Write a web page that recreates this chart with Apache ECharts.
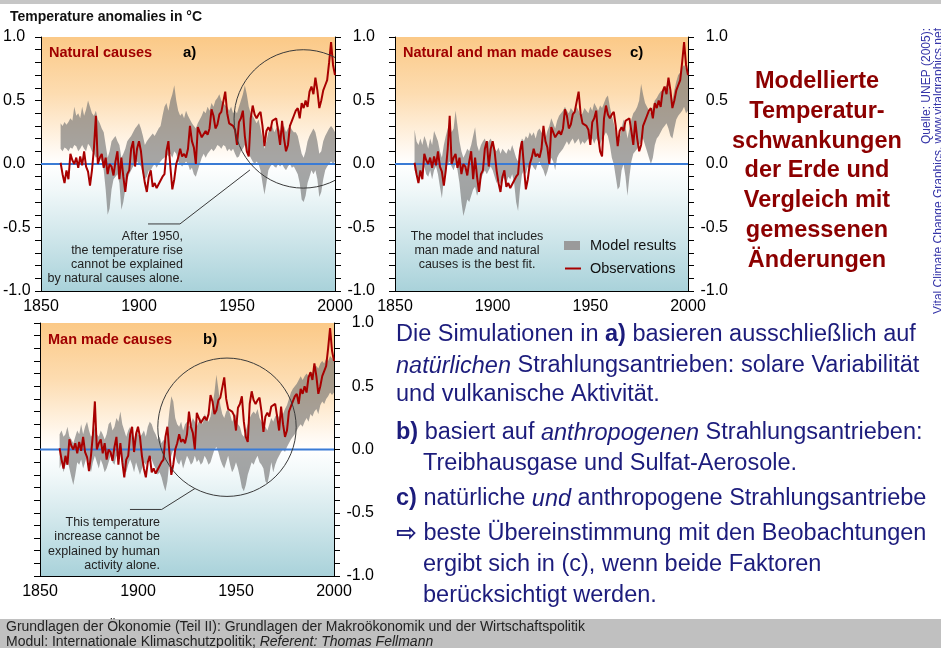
<!DOCTYPE html>
<html><head><meta charset="utf-8">
<script src="https://cdn.jsdelivr.net/npm/echarts@6/dist/echarts.min.js"></script>
<style>html,body{margin:0;padding:0;background:#fff}#c{width:941px;height:648px}</style>
</head><body><div id="c"></div>
<script>
// ---------- data ----------
const years = []; for (let y = 1860; y <= 2000; y++) years.push(y);
const xTicks = [1850, 1900, 1950, 2000];
const yTicks = [-1.0, -0.5, 0.0, 0.5, 1.0];

const observations = [
 0.01,-0.08,-0.15,-0.05,-0.12, 0.08, 0.03, 0.00, 0.05,-0.03,
 0.06,-0.01, 0.10,-0.02,-0.06,-0.17,-0.05, 0.12, 0.38, 0.00,
 0.05, 0.08,-0.03, 0.05,-0.08, 0.00,-0.02,-0.09, 0.02, 0.10,
-0.12, 0.05,-0.10,-0.22,-0.08,-0.05, 0.12, 0.18,-0.02, 0.12,
 0.18, 0.10,-0.05,-0.15,-0.22,-0.10,-0.05,-0.18,-0.15,-0.19,
-0.16,-0.17,-0.10,-0.08, 0.10, 0.18,-0.02,-0.20,-0.12, 0.00,
 0.05, 0.12, 0.06, 0.08, 0.05, 0.12, 0.30, 0.18, 0.13, 0.00,
 0.29, 0.28, 0.21, 0.20, 0.26, 0.23, 0.28, 0.43, 0.38, 0.28,
 0.31, 0.39, 0.41, 0.40, 0.57, 0.40, 0.32, 0.31, 0.30, 0.27,
 0.15, 0.33, 0.36, 0.42, 0.22, 0.10, 0.06, 0.36, 0.46, 0.39,
 0.36, 0.39, 0.41, 0.30, 0.14, 0.26, 0.29, 0.26, 0.34, 0.33,
 0.36, 0.26, 0.15, 0.34, 0.20, 0.10, 0.15, 0.30, 0.34, 0.38,
 0.42, 0.44, 0.36, 0.48, 0.44, 0.50, 0.45, 0.57, 0.61, 0.55,
 0.68, 0.58, 0.44, 0.50, 0.58, 0.62, 0.66, 0.80, 0.96, 0.78,
 0.70];

// a) natural forcing model envelope
const naturalLow = [
 0.12, 0.10, 0.13, 0.12, 0.10, 0.13, 0.12, 0.15, 0.14, 0.10,
 0.12, 0.15, 0.12, 0.10, 0.16, 0.14, 0.10, 0.08, 0.05, 0.06,
 0.05, 0.02,-0.05,-0.20,-0.40,-0.35,-0.20,-0.12,-0.10,-0.08,
-0.15,-0.36,-0.30,-0.20,-0.12,-0.08,-0.05,-0.02, 0.00, 0.02,
 0.00,-0.02,-0.08,-0.12,-0.10,-0.05,-0.05,-0.02, 0.00,-0.03,
 0.00, 0.02, 0.04, 0.05, 0.08, 0.06, 0.08, 0.05, 0.10, 0.08,
 0.02, 0.00,-0.02, 0.00, 0.02, 0.00,-0.05,-0.03,-0.08,-0.10,
-0.05, 0.00, 0.05, 0.08, 0.05, 0.08, 0.10, 0.12, 0.10, 0.12,
 0.15, 0.14, 0.12, 0.15, 0.14, 0.10, 0.12, 0.10, 0.12, 0.08,
 0.05, 0.06, 0.10, 0.12, 0.15, 0.10, 0.08, 0.05, 0.02, 0.00,
 0.02, 0.00,-0.05,-0.15,-0.24,-0.15,-0.05,-0.02, 0.00,-0.02,
-0.03, 0.00,-0.02, 0.00,-0.03,-0.05,-0.02, 0.00,-0.03,-0.02,
-0.05,-0.08,-0.15,-0.28,-0.30,-0.25,-0.15,-0.10,-0.05,-0.08,
-0.05,-0.12,-0.26,-0.22,-0.12,-0.05,-0.02, 0.00, 0.02, 0.00,
 0.02];
const naturalHigh = [
 0.32, 0.30, 0.33, 0.31, 0.33, 0.36, 0.34, 0.45, 0.38, 0.40,
 0.36, 0.45, 0.38, 0.43, 0.50, 0.45, 0.40, 0.38, 0.42, 0.35,
 0.32, 0.28, 0.25, 0.15, 0.05, 0.10, 0.18, 0.20, 0.22, 0.18,
 0.15, 0.05, 0.08, 0.12, 0.18, 0.20, 0.22, 0.25, 0.28, 0.30,
 0.32, 0.28, 0.22, 0.15, 0.18, 0.20, 0.22, 0.24, 0.22, 0.25,
 0.28, 0.30, 0.38, 0.45, 0.48, 0.42, 0.50, 0.55, 0.62, 0.50,
 0.42, 0.38, 0.40, 0.36, 0.42, 0.38, 0.35, 0.32, 0.30, 0.28,
 0.32, 0.35, 0.38, 0.42, 0.40, 0.45, 0.42, 0.48, 0.45, 0.50,
 0.52, 0.55, 0.50, 0.48, 0.46, 0.45, 0.42, 0.45, 0.40, 0.42,
 0.40, 0.45, 0.50, 0.55, 0.62, 0.55, 0.45, 0.40, 0.38, 0.35,
 0.32, 0.35, 0.28, 0.20, 0.12, 0.18, 0.25, 0.28, 0.30, 0.25,
 0.28, 0.30, 0.26, 0.28, 0.30, 0.25, 0.28, 0.30, 0.27, 0.25,
 0.25, 0.22, 0.15, 0.08, 0.05, 0.10, 0.18, 0.22, 0.25, 0.28,
 0.25, 0.18, 0.08, 0.10, 0.18, 0.22, 0.25, 0.28, 0.30, 0.28,
 0.25];

// b) anthropogenic forcing model envelope
const manMadeLow = [
-0.15,-0.10,-0.18,-0.12,-0.08,-0.15,-0.22,-0.28,-0.20,-0.10,
-0.12,-0.08,-0.15,-0.10,-0.05,-0.12,-0.18,-0.10,-0.05,-0.10,
-0.15,-0.08,-0.12,-0.18,-0.15,-0.10,-0.05,-0.10,-0.12,-0.05,
-0.08,-0.02,-0.10,-0.15,-0.18,-0.12,-0.08,-0.12,-0.18,-0.10,
-0.15,-0.20,-0.15,-0.10,-0.12,-0.08,-0.05,-0.08,-0.12,-0.15,
-0.20,-0.18,-0.22,-0.28,-0.33,-0.25,-0.10,-0.05, 0.00,-0.05,
-0.10,-0.12,-0.08,-0.15,-0.10,-0.05,-0.08,-0.12,-0.10,-0.05,
-0.10,-0.08,-0.12,-0.10,-0.05,-0.08,-0.12,-0.10,-0.05, 0.00,
 0.02,-0.02,-0.08,-0.12,-0.15,-0.10,-0.05,-0.12,-0.18,-0.15,
-0.10,-0.15,-0.22,-0.30,-0.33,-0.28,-0.20,-0.15,-0.10,-0.12,
-0.08,-0.05,-0.10,-0.12,-0.15,-0.25,-0.27,-0.20,-0.10,-0.18,
-0.12,-0.08,-0.05,-0.02, 0.00,-0.02, 0.02, 0.05, 0.08, 0.10,
 0.12, 0.15, 0.18, 0.20, 0.18, 0.22, 0.25, 0.22, 0.28, 0.26,
 0.30, 0.32, 0.28, 0.35, 0.38, 0.36, 0.40, 0.42, 0.45, 0.43,
 0.45];
const manMadeHigh = [
 0.12, 0.15, 0.10, 0.12, 0.18, 0.10, 0.08, 0.05, 0.10, 0.15,
 0.12, 0.20, 0.12, 0.18, 0.22, 0.15, 0.10, 0.12, 0.18, 0.12,
 0.10, 0.15, 0.12, 0.08, 0.12, 0.20, 0.22, 0.15, 0.18, 0.25,
 0.22, 0.30, 0.20, 0.15, 0.10, 0.15, 0.18, 0.12, 0.08, 0.15,
 0.12, 0.10, 0.12, 0.15, 0.10, 0.18, 0.22, 0.20, 0.15, 0.12,
 0.08, 0.10, 0.05, 0.08, 0.02, 0.15, 0.30, 0.42, 0.38, 0.25,
 0.20, 0.18, 0.22, 0.15, 0.20, 0.22, 0.18, 0.20, 0.25, 0.22,
 0.18, 0.22, 0.25, 0.20, 0.28, 0.25, 0.22, 0.26, 0.35, 0.45,
 0.59, 0.48, 0.35, 0.28, 0.25, 0.30, 0.32, 0.28, 0.22, 0.25,
 0.28, 0.20, 0.18, 0.12, 0.10, 0.15, 0.20, 0.25, 0.28, 0.30,
 0.28, 0.32, 0.25, 0.22, 0.20, 0.18, 0.15, 0.20, 0.25, 0.22,
 0.26, 0.28, 0.25, 0.30, 0.28, 0.32, 0.35, 0.40, 0.45, 0.48,
 0.50, 0.52, 0.55, 0.58, 0.55, 0.58, 0.60, 0.58, 0.62, 0.60,
 0.65, 0.66, 0.64, 0.68, 0.70, 0.68, 0.72, 0.70, 0.74, 0.72,
 0.70];

// c) natural + anthropogenic model envelope
const combinedLow = [
-0.05,-0.08,-0.12,-0.05,-0.10,-0.02,-0.08,-0.10,-0.05,-0.12,
-0.05,-0.02,-0.08,-0.18,-0.27,-0.12,-0.05, 0.00, 0.02,-0.02,
-0.05, 0.00,-0.05,-0.15,-0.30,-0.41,-0.35,-0.28,-0.30,-0.25,
-0.20,-0.18,-0.25,-0.20,-0.12,-0.08,-0.05,-0.08,-0.05,-0.02,
-0.05,-0.10,-0.15,-0.12,-0.16,-0.10,-0.12,-0.15,-0.10,-0.12,
-0.08,-0.15,-0.30,-0.37,-0.20,-0.08,-0.05,-0.08,-0.02,-0.05,
 0.00,-0.03,-0.05, 0.00, 0.02,-0.02,-0.05,-0.10,-0.06, 0.00,
 0.05, 0.02,-0.05, 0.05, 0.08, 0.10, 0.12, 0.15, 0.18, 0.15,
 0.18, 0.20, 0.16, 0.18, 0.20, 0.15, 0.18, 0.16, 0.18, 0.20,
 0.18, 0.20, 0.16, 0.20, 0.18, 0.15, 0.20, 0.22, 0.25, 0.22,
 0.15, 0.05, 0.00,-0.10,-0.20,-0.18,-0.05, 0.00,-0.10,-0.25,
-0.10, 0.02, 0.08, 0.10, 0.12, 0.15, 0.18, 0.20, 0.15, 0.10,
 0.05, 0.00, 0.05, 0.15, 0.20, 0.22, 0.25, 0.28, 0.30, 0.32,
 0.28, 0.22, 0.20, 0.28, 0.35, 0.38, 0.40, 0.42, 0.45, 0.40,
 0.42];
const combinedHigh = [
 0.27, 0.18, 0.15, 0.20, 0.15, 0.22, 0.18, 0.12, 0.20, 0.15,
 0.26, 0.22, 0.18, 0.10, 0.05, 0.15, 0.22, 0.28, 0.32, 0.25,
 0.28, 0.42, 0.30, 0.18, 0.10, 0.05, 0.08, 0.12, 0.10, 0.15,
 0.22, 0.29, 0.15, 0.10, 0.15, 0.18, 0.20, 0.15, 0.18, 0.20,
 0.16, 0.12, 0.10, 0.13, 0.08, 0.12, 0.10, 0.08, 0.12, 0.10,
 0.15, 0.10, 0.05, 0.02, 0.15, 0.20, 0.18, 0.22, 0.20, 0.25,
 0.22, 0.25, 0.20, 0.26, 0.28, 0.25, 0.22, 0.20, 0.26, 0.30,
 0.36, 0.32, 0.28, 0.34, 0.38, 0.40, 0.42, 0.45, 0.42, 0.40,
 0.44, 0.42, 0.40, 0.45, 0.42, 0.38, 0.40, 0.44, 0.42, 0.40,
 0.45, 0.42, 0.48, 0.45, 0.42, 0.46, 0.44, 0.48, 0.52, 0.54,
 0.45, 0.38, 0.32, 0.25, 0.18, 0.20, 0.28, 0.35, 0.30, 0.20,
 0.28, 0.35, 0.40, 0.42, 0.45, 0.50, 0.63, 0.55, 0.48, 0.45,
 0.42, 0.40, 0.45, 0.50, 0.52, 0.55, 0.57, 0.58, 0.60, 0.62,
 0.60, 0.55, 0.50, 0.58, 0.65, 0.70, 0.72, 0.76, 0.78, 0.75,
 0.70];

// annotation circles [centre year, centre value, radius in years] and leader lines
const circleA = [1983.8, 0.355, 35.3];
const circleB = [1945.4, 0.176, 35.3];
const leaderA = [1956.6, -0.047, 1920.9, -0.472, 1904.6, -0.472];
const leaderB = [1929.1, -0.308, 1912.1, -0.474, 1895.9, -0.474];

// ---------- chart ----------
const FONT = '"Liberation Sans", Arial, Helvetica, sans-serif';
const RED = '#a80000';
const chart = echarts.init(document.getElementById('c'), null, {renderer: 'canvas'});

const bg = {type: 'linear', x: 0, y: 0, x2: 0, y2: 1, colorStops: [
  {offset: 0, color: '#fbc987'}, {offset: 0.22, color: '#fddcb0'},
  {offset: 0.44, color: '#fff8ef'}, {offset: 0.5, color: '#ffffff'},
  {offset: 0.6, color: '#f1f8f9'}, {offset: 1, color: '#a9d2da'}]};

const grids = [
  {left: 41, top: 37, width: 294, height: 254},   // a)
  {left: 395, top: 37, width: 293, height: 254},  // c)
  {left: 40, top: 323, width: 294, height: 253}   // b)
].map(g => Object.assign(g, {show: true, backgroundColor: bg, borderWidth: 0}));

const xAxes = grids.map((g, i) => ({
  gridIndex: i, type: 'value', min: 1850, max: 2000, interval: 50,
  axisLine: {show: true, onZero: false, lineStyle: {color: '#000', width: 1}},
  axisTick: {show: false}, splitLine: {show: false},
  axisLabel: {fontSize: 16, color: '#000', fontFamily: FONT, margin: 8,
    formatter: v => xTicks.includes(v) ? String(v) : ''}
}));

const yLabel = v => yTicks.some(t => Math.abs(t - v) < 1e-6) ? (Math.round(v * 10) / 10).toFixed(1) : '';
const yAxes = [];
grids.forEach((g, i) => {
  const base = {gridIndex: i, type: 'value', min: -1, max: 1, interval: 0.1,
    axisLine: {show: true, onZero: false, lineStyle: {color: '#000', width: 1}},
    axisTick: {show: true, length: 6, lineStyle: {color: '#000'}},
    splitLine: {show: false}};
  yAxes.push(Object.assign({}, base, {position: 'left',
    axisLabel: {show: i === 0, fontSize: 16, color: '#000', fontFamily: FONT, align: 'left', margin: 38, formatter: yLabel}}));
  yAxes.push(Object.assign({}, base, {position: 'right',
    axisLabel: {show: true, fontSize: 16, color: '#000', fontFamily: FONT, align: 'right', margin: 40, formatter: yLabel}}));
});

const pts = arr => years.map((y, i) => [y, arr[i]]);

function panelSeries(i, lo, hi, circle, leader) {
  const ax = {xAxisIndex: i, yAxisIndex: i * 2};
  const s = [
    // model envelope: one polygon through the upper values then back along the lower values
    Object.assign({type: 'custom', clip: true, silent: true, z: 2,
      data: years.map((y, k) => [y, lo[k], hi[k]]),
      encode: {x: 0, y: [1, 2]},
      renderItem: (p, api) => {
        if (p.dataIndex !== 0) return null;
        const up = years.map((y, k) => api.coord([y, hi[k]]));
        const dn = years.map((y, k) => api.coord([y, lo[k]])).reverse();
        return {type: 'polygon', shape: {points: up.concat(dn)},
          style: {fill: 'rgba(112,112,112,0.62)', stroke: null}};
      }}, ax),
    Object.assign({type: 'line', data: [[1850, 0], [2000, 0]], symbol: 'none',
      lineStyle: {color: '#3a7bd5', width: 2}, silent: true, z: 3}, ax),
    Object.assign({type: 'line', data: pts(observations), symbol: 'none',
      lineStyle: {color: RED, width: 2}, silent: true, z: 4}, ax)
  ];
  if (circle) {
    s.push(Object.assign({type: 'custom', clip: true, silent: true, z: 5, data: [circle],
      encode: {x: 0, y: 1},
      renderItem: (p, api) => {
        const c = api.coord([api.value(0), api.value(1)]);
        const r = api.size([api.value(2), 0])[0];
        return {type: 'circle', shape: {cx: c[0], cy: c[1], r: r},
          style: {fill: null, stroke: '#3a3a3a', lineWidth: 1}};
      }}, ax));
    s.push(Object.assign({type: 'custom', clip: false, silent: true, z: 5, data: [leader],
      encode: {x: [0, 2, 4], y: [1, 3, 5]},
      renderItem: (p, api) => {
        const a = api.coord([api.value(0), api.value(1)]);
        const b = api.coord([api.value(2), api.value(3)]);
        const c = api.coord([api.value(4), api.value(5)]);
        return {type: 'polyline', shape: {points: [a, b, c]},
          style: {fill: null, stroke: '#3a3a3a', lineWidth: 1}};
      }}, ax));
  }
  return s;
}

const series = [].concat(
  panelSeries(0, naturalLow, naturalHigh, circleA, leaderA),
  panelSeries(1, combinedLow, combinedHigh, null, null),
  panelSeries(2, manMadeLow, manMadeHigh, circleB, leaderB)
);

// ---------- texts ----------
const T = (x, y, text, o) => ({type: 'text', x: x, y: y, z: 100, silent: true,
  style: Object.assign({text: text, fontFamily: FONT, fontSize: 13, fill: '#111', verticalAlign: 'middle'}, o || {})});

const BODY = '#1c1c7c';
const BFS = 23.5;
const rich = {
  n: {fontFamily: FONT, fontSize: BFS, fill: BODY},
  b: {fontFamily: FONT, fontSize: BFS, fill: BODY, fontWeight: 'bold'},
  i: {fontFamily: FONT, fontSize: BFS, fill: BODY, fontStyle: 'italic'},
  a: {fontFamily: '"DejaVu Sans", sans-serif', fontSize: 25, fill: BODY, fontWeight: 'bold'}
};
const R = (x, y, text) => ({type: 'text', x: x, y: y, z: 100, silent: true,
  style: {text: text, rich: rich, fontFamily: FONT, fontSize: BFS, fill: BODY, verticalAlign: 'middle'}});

const FFS = 14;
const footRich = {
  n: {fontFamily: FONT, fontSize: FFS, fill: '#222'},
  i: {fontFamily: FONT, fontSize: FFS, fill: '#222', fontStyle: 'italic'}
};

const graphic = [
  {type: 'rect', z: 99, silent: true, shape: {x: 0, y: 0, width: 941, height: 4}, style: {fill: '#c6c6c6'}},
  T(10, 17, 'Temperature anomalies in °C', {fontSize: 14, fontWeight: 'bold'}),
  T(49, 53, 'Natural causes', {fontSize: 14.5, fontWeight: 'bold', fill: '#a00000'}),
  T(183, 53, 'a)', {fontSize: 15, fontWeight: 'bold', fill: '#000'}),
  T(403, 53, 'Natural and man made causes', {fontSize: 14.5, fontWeight: 'bold', fill: '#a00000'}),
  T(630, 53, 'c)', {fontSize: 15, fontWeight: 'bold', fill: '#000'}),
  T(48, 340, 'Man made causes', {fontSize: 14.5, fontWeight: 'bold', fill: '#a00000'}),
  T(203, 340, 'b)', {fontSize: 15, fontWeight: 'bold', fill: '#000'}),
  T(183, 230, 'After 1950,\nthe temperature rise\ncannot be explained\nby natural causes alone.',
    {fontSize: 12.5, fill: '#222', align: 'right', verticalAlign: 'top', lineHeight: 14}),
  T(160, 515, 'This temperature\nincrease cannot be\nexplained by human\nactivity alone.',
    {fontSize: 12.5, fill: '#222', align: 'right', verticalAlign: 'top', lineHeight: 14.5}),
  T(477, 230, 'The model that includes\nman made and natural\ncauses is the best fit.',
    {fontSize: 12.5, fill: '#222', align: 'center', verticalAlign: 'top', lineHeight: 14}),
  {type: 'rect', z: 100, silent: true, shape: {x: 564, y: 241, width: 16, height: 9}, style: {fill: '#9a9a9a'}},
  {type: 'line', z: 100, silent: true, shape: {x1: 565, y1: 268.5, x2: 581, y2: 268.5}, style: {stroke: RED, lineWidth: 2}},
  T(590, 246, 'Model results', {fontSize: 14.5, fill: '#111'}),
  T(590, 269, 'Observations', {fontSize: 14.5, fill: '#111'}),
  T(817, 67, 'Modellierte\nTemperatur-\nschwankungen\nder Erde und\nVergleich mit\ngemessenen\nÄnderungen',
    {fontSize: 23.5, fontWeight: 'bold', fill: '#8c0000', align: 'center', verticalAlign: 'top', lineHeight: 29.7}),
  Object.assign(T(927, 28, 'Quelle: UNEP (2005):', {fontSize: 12, fill: '#3535a8', align: 'right'}), {rotation: Math.PI / 2}),
  Object.assign(T(939, 28, 'Vital Climate Change Graphics, www.vitalgraphics.net', {fontSize: 12, fill: '#3535a8', align: 'right'}), {rotation: Math.PI / 2}),
  R(396, 335, '{n|Die Simulationen in }{b|a)}{n| basieren ausschließlich auf}'),
  R(396, 366, '{i|natürlichen}{n| Strahlungsantrieben: solare Variabilität}'),
  R(396, 395, '{n|und vulkanische Aktivität.}'),
  R(396, 433, '{b|b)}{n| basiert auf }{i|anthropogenen}{n| Strahlungsantrieben:}'),
  R(423, 464, '{n|Treibhausgase und Sulfat-Aerosole.}'),
  R(396, 499, '{b|c)}{n| natürliche }{i|und}{n| anthropogene Strahlungsantriebe}'),
  R(396, 534, '{a|⇨}{n| beste Übereinstimmung mit den Beobachtungen}'),
  R(423, 565, '{n|ergibt sich in (c), wenn beide Faktoren}'),
  R(423, 596, '{n|berücksichtigt werden.}'),
  {type: 'rect', z: 99, silent: true, shape: {x: 0, y: 619, width: 941, height: 29}, style: {fill: '#c0c0c0'}},
  T(6, 627, 'Grundlagen der Ökonomie (Teil II): Grundlagen der Makroökonomik und der Wirtschaftspolitik', {fontSize: FFS, fill: '#222'}),
  {type: 'text', x: 6, y: 642, z: 100, silent: true,
    style: {text: '{n|Modul: Internationale Klimaschutzpolitik; }{i|Referent: Thomas Fellmann}', rich: footRich,
      fontFamily: FONT, fontSize: FFS, fill: '#222', verticalAlign: 'middle'}}
];

chart.setOption({
  animation: false,
  backgroundColor: '#ffffff',
  grid: grids, xAxis: xAxes, yAxis: yAxes, series: series, graphic: graphic
});
</script></body></html>
